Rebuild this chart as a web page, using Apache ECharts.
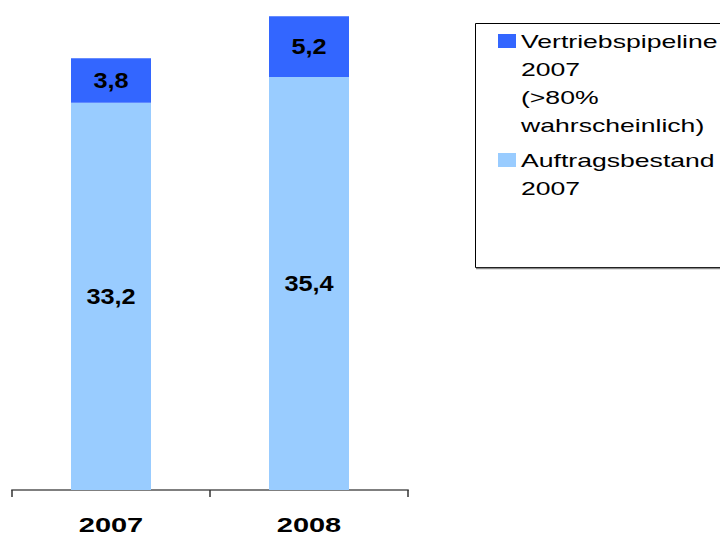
<!DOCTYPE html>
<html>
<head>
<meta charset="utf-8">
<script src="https://cdn.jsdelivr.net/npm/echarts@6/dist/echarts.min.js"></script>
<style>
  html, body { margin: 0; padding: 0; background: #fff; }
  #chart { width: 720px; height: 536px; }
</style>
</head>
<body>
<div id="chart"></div>
<script>
// ---- data ----
const categories = ['2007', '2008'];
const seriesNames = ['Auftragsbestand 2007', 'Vertriebspipeline 2007 (>80% wahrscheinlich)'];
const auftragsbestand = [33.2, 35.4];
const vertriebspipeline = [3.8, 5.2];
const legendLabels = {
  'Vertriebspipeline 2007 (>80% wahrscheinlich)': 'Vertriebspipeline\n2007\n(>80%\nwahrscheinlich)',
  'Auftragsbestand 2007': 'Auftragsbestand\n2007'
};

const fmt = p => String(p.value).replace('.', ',');
const chart = echarts.init(document.getElementById('chart'), null, { renderer: 'svg' });

chart.setOption({
  animation: false,
  backgroundColor: '#fff',
  grid: { left: 12, right: 312, top: 0, bottom: 46, containLabel: false },
  xAxis: {
    type: 'category',
    data: categories,
    boundaryGap: true,
    axisLine: { lineStyle: { color: '#7f7f7f', width: 2 } },
    axisTick: { show: true, length: 7, lineStyle: { color: '#333', width: 1.5 } },
    axisLabel: {
      margin: 24,
      color: '#000',
      fontSize: 21,
      fontWeight: 'bold',
      fontFamily: 'Arial'
    }
  },
  yAxis: {
    type: 'value',
    min: 0,
    max: 42,
    show: false,
    splitLine: { show: false }
  },
  legend: {
    orient: 'vertical',
    left: 493,
    top: 22,
    itemWidth: 18,
    itemHeight: 112,
    itemGap: -21,
    data: [
      { name: seriesNames[1], icon: 'path://M0,7h18v14h-18zM0,0M18,112' },
      { name: seriesNames[0], icon: 'path://M0,35h18v14h-18zM0,0M18,112' }
    ],
    formatter: name => legendLabels[name],
    textStyle: {
      color: '#000',
      fontSize: 19,
      lineHeight: 28,
      fontFamily: 'Liberation Sans'
    },
    selectedMode: false
  },
  graphic: [
    { type: 'rect', shape: { x: 475.5, y: 23.5, width: 260, height: 244 },
      style: { fill: 'none', stroke: '#000', lineWidth: 1 }, z: 0 },
    { type: 'line', shape: { x1: 476, y1: 268.5, x2: 720, y2: 268.5 },
      style: { stroke: '#888', lineWidth: 1.5 }, z: 0 }
  ],
  series: [
    {
      name: seriesNames[0],
      type: 'bar',
      stack: 'total',
      barWidth: 80,
      data: auftragsbestand,
      itemStyle: { color: '#99CCFF' },
      label: {
        show: true, position: 'inside', formatter: fmt,
        color: '#000', fontSize: 22, fontWeight: 'bold', fontFamily: 'Arimo, Arial'
      }
    },
    {
      name: seriesNames[1],
      type: 'bar',
      stack: 'total',
      barWidth: 80,
      data: vertriebspipeline,
      itemStyle: { color: '#3366FF' },
      label: {
        show: true, position: 'inside', formatter: fmt,
        color: '#000', fontSize: 22, fontWeight: 'bold', fontFamily: 'Arimo, Arial'
      }
    }
  ]
});

// The reference lettering is horizontally stretched; widen the glyphs to match.
function stretchText() {
  document.querySelectorAll('#chart text').forEach(t => {
    const tr = t.getAttribute('transform') || '';
    if (tr.indexOf('scale(') >= 0) return;
    const s = (t.getAttribute('style') || '');
    let k = null;
    if (s.indexOf('Liberation Sans') >= 0) k = 1.4;
    else if (s.indexOf('Arimo') >= 0) k = 1.15;
    else if (s.indexOf('Arial') >= 0) k = 1.38;
    if (!k) return;
    const x = parseFloat(t.getAttribute('x') || '0');
    t.setAttribute('transform', (tr + ' translate(' + x + ',0) scale(' + k + ',1) translate(' + (-x) + ',0)').trim());
  });
}
stretchText();
chart.on('finished', stretchText);
</script>
</body>
</html>
